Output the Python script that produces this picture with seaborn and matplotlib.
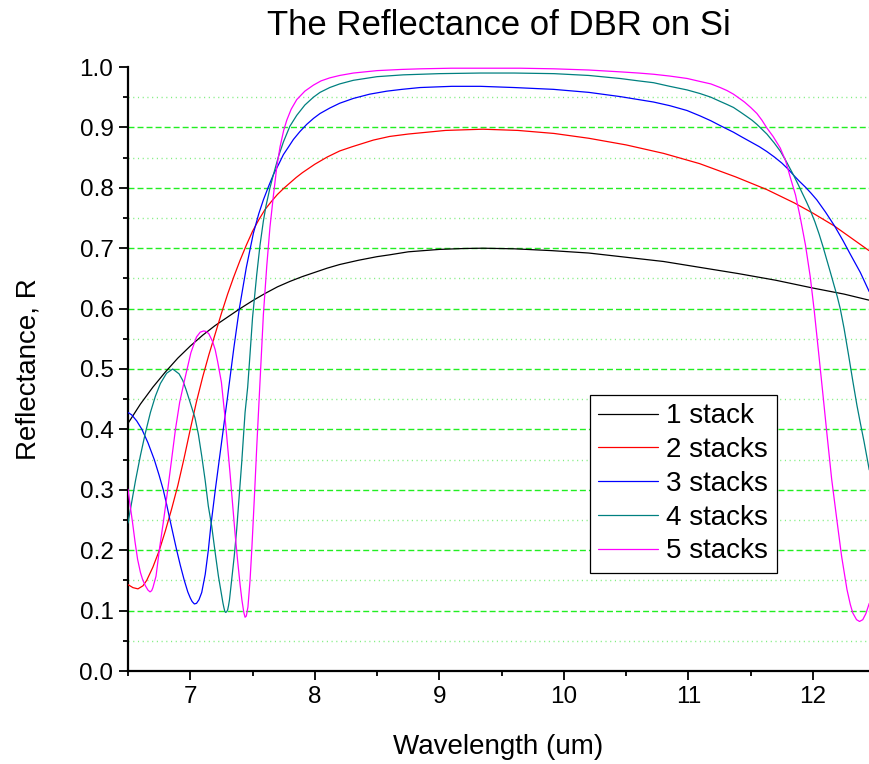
import matplotlib
matplotlib.use("Agg")
import matplotlib.pyplot as plt
import pandas as pd
import seaborn as sns
from matplotlib.lines import Line2D
from matplotlib.ticker import MultipleLocator, FormatStrFormatter

series_names = ["1 stack", "2 stacks", "3 stacks", "4 stacks", "5 stacks"]
series_colors = ["#000000", "#FF0000", "#0000FF", "#008080", "#FF00FF"]

wl_1 = [6.5, 6.6, 6.7, 6.8, 6.9, 7.0, 7.1, 7.2, 7.3, 7.4, 7.5, 7.6, 7.7, 7.8, 7.9, 8.0, 8.1,
        8.2, 8.35, 8.5, 8.6, 8.75, 9.0, 9.2, 9.35, 9.6, 9.9, 10.2, 10.5, 10.8, 11.1, 11.4,
        11.7, 12.0, 12.25, 12.45]
r_1 = [0.410, 0.442, 0.470, 0.495, 0.518, 0.538, 0.556, 0.572, 0.586, 0.600, 0.613, 0.625,
       0.636, 0.645, 0.653, 0.660, 0.667, 0.673, 0.680, 0.686, 0.689, 0.694, 0.698, 0.6995,
       0.700, 0.699, 0.696, 0.692, 0.685, 0.678, 0.668, 0.658, 0.647, 0.634, 0.624, 0.614]

wl_2 = [6.5, 6.54, 6.58, 6.62, 6.65, 6.7, 6.75, 6.8, 6.85, 6.9, 6.95, 7.0, 7.05, 7.1, 7.15,
        7.2, 7.25, 7.3, 7.35, 7.4, 7.45, 7.5, 7.55, 7.6, 7.65, 7.7, 7.75, 7.8, 7.85, 7.9,
        7.95, 8.0, 8.1, 8.2, 8.3, 8.47, 8.6, 8.75, 9.05, 9.35, 9.63, 9.92, 10.2, 10.5, 10.8,
        11.09, 11.38, 11.63, 11.85, 12.0, 12.17, 12.3, 12.45]
r_2 = [0.143, 0.138, 0.136, 0.141, 0.150, 0.172, 0.199, 0.232, 0.268, 0.307, 0.352, 0.400,
       0.446, 0.487, 0.524, 0.558, 0.592, 0.624, 0.653, 0.680, 0.705, 0.728, 0.747, 0.764,
       0.777, 0.789, 0.799, 0.808, 0.817, 0.825, 0.832, 0.839, 0.851, 0.861, 0.868, 0.879,
       0.885, 0.889, 0.895, 0.897, 0.895, 0.890, 0.882, 0.871, 0.857, 0.840, 0.818, 0.797,
       0.775, 0.758, 0.737, 0.718, 0.696]

wl_3 = [6.5, 6.53, 6.57, 6.612, 6.66, 6.711, 6.75, 6.783, 6.81, 6.837, 6.865, 6.891, 6.92,
        6.952, 6.98, 7.0, 7.015, 7.033, 7.05, 7.07, 7.092, 7.12, 7.145, 7.165, 7.183, 7.201,
        7.217, 7.233, 7.249, 7.265, 7.281, 7.297, 7.32, 7.35, 7.394, 7.45, 7.507, 7.55,
        7.587, 7.63, 7.668, 7.71, 7.748, 7.79, 7.828, 7.88, 7.935, 7.99, 8.042, 8.12, 8.2,
        8.31, 8.44, 8.578, 8.7, 8.845, 9.1, 9.33, 9.6, 9.916, 10.2, 10.452, 10.72, 10.85,
        10.988, 11.094, 11.18, 11.255, 11.362, 11.43, 11.5, 11.57, 11.63, 11.69, 11.75,
        11.8, 11.844, 11.89, 11.94, 11.985, 12.031, 12.1, 12.173, 12.24, 12.3, 12.38, 12.452]
r_3 = [0.428, 0.424, 0.414, 0.400, 0.378, 0.350, 0.324, 0.300, 0.276, 0.250, 0.224, 0.200,
       0.175, 0.150, 0.131, 0.121, 0.115, 0.111, 0.112, 0.118, 0.130, 0.160, 0.200, 0.240,
       0.270, 0.300, 0.325, 0.350, 0.375, 0.400, 0.425, 0.450, 0.487, 0.535, 0.600, 0.668,
       0.725, 0.757, 0.780, 0.803, 0.822, 0.839, 0.855, 0.868, 0.880, 0.893, 0.905, 0.915,
       0.923, 0.932, 0.940, 0.948, 0.955, 0.960, 0.963, 0.966, 0.968, 0.968, 0.966, 0.963,
       0.958, 0.951, 0.942, 0.936, 0.928, 0.919, 0.911, 0.903, 0.892, 0.884, 0.876, 0.868,
       0.860, 0.851, 0.841, 0.831, 0.821, 0.811, 0.801, 0.791, 0.780, 0.760, 0.737, 0.713,
       0.690, 0.660, 0.628]

wl_4 = [6.5, 6.53, 6.56, 6.6, 6.637, 6.68, 6.72, 6.76, 6.81, 6.859, 6.91, 6.94, 6.966, 7.0,
        7.038, 7.065, 7.092, 7.12, 7.145, 7.172, 7.2, 7.226, 7.253, 7.262, 7.27, 7.277,
        7.284, 7.292, 7.3, 7.307, 7.315, 7.333, 7.353, 7.373, 7.393, 7.413, 7.44, 7.461,
        7.48, 7.5, 7.533, 7.56, 7.587, 7.608, 7.64, 7.668, 7.71, 7.748, 7.8, 7.855, 7.92,
        7.989, 8.042, 8.12, 8.2, 8.31, 8.5, 8.71, 9.0, 9.33, 9.6, 9.92, 10.2, 10.45, 10.6,
        10.72, 10.85, 10.99, 11.094, 11.18, 11.255, 11.31, 11.362, 11.42, 11.469, 11.51,
        11.55, 11.59, 11.63, 11.69, 11.74, 11.79, 11.844, 11.88, 11.91, 11.945, 11.978,
        12.015, 12.05, 12.08, 12.112, 12.14, 12.17, 12.195, 12.219, 12.25, 12.286, 12.32,
        12.353, 12.38, 12.41, 12.452]
r_4 = [0.245, 0.280, 0.315, 0.357, 0.392, 0.428, 0.455, 0.476, 0.493, 0.500, 0.492, 0.481,
       0.466, 0.444, 0.419, 0.392, 0.356, 0.315, 0.273, 0.240, 0.196, 0.157, 0.124, 0.113,
       0.105, 0.099, 0.097, 0.098, 0.101, 0.108, 0.118, 0.152, 0.190, 0.235, 0.290, 0.345,
       0.428, 0.470, 0.525, 0.585, 0.655, 0.705, 0.745, 0.770, 0.800, 0.822, 0.853, 0.876,
       0.902, 0.920, 0.937, 0.950, 0.958, 0.966, 0.972, 0.978, 0.984, 0.987, 0.989, 0.990,
       0.990, 0.989, 0.986, 0.981, 0.977, 0.974, 0.968, 0.962, 0.956, 0.950, 0.943, 0.938,
       0.933, 0.925, 0.918, 0.912, 0.905, 0.897, 0.889, 0.874, 0.860, 0.842, 0.821, 0.806,
       0.793, 0.778, 0.763, 0.744, 0.723, 0.703, 0.680, 0.660, 0.638, 0.620, 0.600, 0.567,
       0.523, 0.480, 0.440, 0.411, 0.380, 0.333]

wl_5 = [6.5, 6.52, 6.537, 6.557, 6.577, 6.6, 6.618, 6.64, 6.66, 6.677, 6.69, 6.7, 6.725,
        6.752, 6.786, 6.819, 6.85, 6.881, 6.915, 6.95, 7.005, 7.05, 7.08, 7.108, 7.13, 7.15,
        7.18, 7.2, 7.22, 7.25, 7.279, 7.319, 7.359, 7.38, 7.4, 7.415, 7.43, 7.44, 7.45,
        7.463, 7.48, 7.495, 7.507, 7.52, 7.534, 7.561, 7.587, 7.614, 7.64, 7.668, 7.695,
        7.721, 7.75, 7.775, 7.81, 7.855, 7.92, 7.989, 8.05, 8.12, 8.2, 8.31, 8.5, 8.7, 8.85,
        9.1, 9.38, 9.65, 9.92, 10.2, 10.45, 10.6, 10.72, 10.85, 10.99, 11.094, 11.18,
        11.255, 11.31, 11.362, 11.41, 11.45, 11.5, 11.55, 11.59, 11.63, 11.68, 11.737, 11.78,
        11.817, 11.86, 11.897, 11.94, 11.978, 12.01, 12.045, 12.08, 12.112, 12.15, 12.192,
        12.23, 12.273, 12.3, 12.32, 12.35, 12.374, 12.4, 12.425, 12.452]
r_5 = [0.301, 0.270, 0.245, 0.213, 0.185, 0.163, 0.151, 0.141, 0.134, 0.131, 0.133, 0.138,
       0.157, 0.201, 0.250, 0.300, 0.350, 0.400, 0.445, 0.478, 0.527, 0.553, 0.561, 0.563,
       0.562, 0.558, 0.545, 0.532, 0.512, 0.478, 0.420, 0.328, 0.229, 0.183, 0.143, 0.117,
       0.097, 0.089, 0.091, 0.106, 0.150, 0.205, 0.255, 0.310, 0.372, 0.483, 0.590, 0.670,
       0.735, 0.788, 0.835, 0.868, 0.895, 0.912, 0.930, 0.946, 0.960, 0.970, 0.977, 0.982,
       0.986, 0.990, 0.994, 0.996, 0.997, 0.998, 0.998, 0.998, 0.997, 0.995, 0.992, 0.990,
       0.988, 0.985, 0.981, 0.976, 0.972, 0.966, 0.961, 0.955, 0.948, 0.942, 0.933, 0.923,
       0.912, 0.899, 0.885, 0.866, 0.845, 0.818, 0.788, 0.752, 0.705, 0.653, 0.597, 0.528,
       0.458, 0.393, 0.318, 0.250, 0.190, 0.135, 0.110, 0.096, 0.085, 0.082, 0.085, 0.095,
       0.112]

x_min, x_max = 6.5, 12.45
y_min, y_max = 0.0, 1.0

sns.set_style("ticks")
plt.rcParams["font.family"] = ["Liberation Sans", "DejaVu Sans"]
plt.rcParams["text.color"] = "black"
plt.rcParams["axes.labelcolor"] = "black"
plt.rcParams["xtick.color"] = "black"
plt.rcParams["ytick.color"] = "black"

frames = []
for name, wl, r in zip(series_names, [wl_1, wl_2, wl_3, wl_4, wl_5], [r_1, r_2, r_3, r_4, r_5]):
    frames.append(pd.DataFrame({"Wavelength": wl, "R": r, "series": name}))
df = pd.concat(frames, ignore_index=True)

fig = plt.figure(figsize=(8.69, 7.64), dpi=100)
ax = fig.add_axes([128 / 869, 93 / 764, 741 / 869, 604 / 764])

sns.lineplot(data=df, x="Wavelength", y="R", hue="series", hue_order=series_names,
             palette=dict(zip(series_names, series_colors)), estimator=None, sort=False,
             linewidth=0.9, ax=ax, legend=False, zorder=3)

ax.set_xlim(x_min, x_max)
ax.set_ylim(y_min, y_max)
ax.xaxis.set_major_locator(MultipleLocator(1))
ax.xaxis.set_minor_locator(MultipleLocator(0.5))
ax.xaxis.set_major_formatter(FormatStrFormatter("%d"))
ax.yaxis.set_major_locator(MultipleLocator(0.1))
ax.yaxis.set_minor_locator(MultipleLocator(0.05))
ax.yaxis.set_major_formatter(FormatStrFormatter("%.1f"))

ax.yaxis.grid(True, which="major", linestyle=(0, (4.3, 2.2)), color="#22ee22", linewidth=1.0, zorder=0)
ax.yaxis.grid(True, which="minor", linestyle=(0, (0.8, 2.6)), color="#80ee80", linewidth=1.0, zorder=0)
ax.xaxis.grid(False)
ax.set_axisbelow(True)

for s in ["top", "right"]:
    ax.spines[s].set_visible(False)
for s in ["left", "bottom"]:
    ax.spines[s].set_linewidth(1.6)
    ax.spines[s].set_color("black")

ax.tick_params(axis="both", which="major", direction="out", length=6.5, width=1.3,
               labelsize=17.5, colors="black", pad=4)
ax.tick_params(axis="both", which="minor", direction="out", length=3.5, width=1.3, colors="black")

fig.canvas.draw()
for tick, loc in zip(ax.yaxis.get_major_ticks(), ax.get_yticks()):
    if abs(loc - 1.0) < 1e-6 or abs(loc) < 1e-6:
        tick.gridline.set_visible(False)

ax.set_title("The Reflectance of DBR on Si", fontsize=25, pad=23, color="black")
ax.set_xlabel("Wavelength (um)", fontsize=20, labelpad=19)
ax.set_ylabel("Reflectance, R", fontsize=20, labelpad=27)

handles = [Line2D([], [], color=c, linewidth=0.9) for c in series_colors]
leg = ax.legend(handles, series_names, loc="upper left", bbox_to_anchor=(0.6235, 0.457),
                fontsize=20, frameon=True, fancybox=False, edgecolor="black", framealpha=1,
                handlelength=2.15, handletextpad=0.3, borderpad=0.3, labelspacing=0.28,
                borderaxespad=0)
leg.get_frame().set_linewidth(0.9)
for t in leg.get_texts():
    t.set_color("black")

fig.savefig("out.png", dpi=100)
